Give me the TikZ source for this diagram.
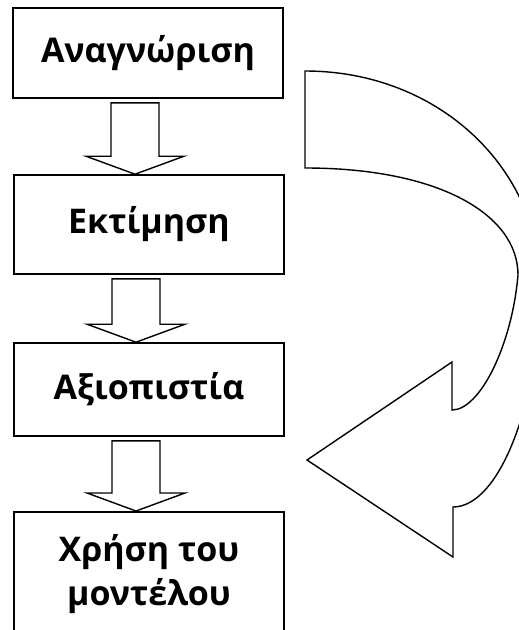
\documentclass[tikz,border=0pt]{standalone}
\usepackage{fontspec}
\setmainfont{Open Sans}
\usetikzlibrary{calc}
\tikzset{
  boxnode/.style={draw=black, line width=1.6pt, minimum width=270pt, inner sep=0pt, align=center, font=\fontsize{34}{44}\selectfont\bfseries},
  blk/.style={draw=black, line width=1.4pt, fill=white, line join=miter},
  bigarrow/.style={draw=black, line width=1.4pt, fill=white, line join=miter}
}
\newcommand{\blockarrow}[2]{%
  \draw[blk] let \p1=(#1.south), \p2=(#2.north) in
    (\x1-37pt,\y1-4pt) -- (\x1+11pt,\y1-4pt) -- (\x1+11pt,\y2+18pt) --
    (\x1+36pt,\y2+18pt) -- (\x1-13pt,\y2) -- (\x1-62pt,\y2+18pt) --
    (\x1-37pt,\y2+18pt) -- cycle;}
\begin{document}
\begin{tikzpicture}[x=1pt,y=-1pt]
\useasboundingbox (0,0) rectangle (519,630);
\clip (0,0) rectangle (519,630);
\fill[white] (0,0) rectangle (519,630);
\node[boxnode, minimum height=90pt] (b1) at (148,53) {\raisebox{5pt}{Αναγνώριση}};
\node[boxnode, minimum height=99pt] (b2) at (149,224.5) {\raisebox{10pt}{Εκτίμηση}};
\node[boxnode, minimum height=93pt] (b3) at (149,389.5) {\raisebox{4pt}{Αξιοπιστία}};
\node[boxnode, minimum height=124pt, anchor=north] (b4) at (149,511) {Χρήση του\\μοντέλου};
\blockarrow{b1}{b2}
\blockarrow{b2}{b3}
\blockarrow{b3}{b4}
\coordinate (tailtop) at (305,71);
\coordinate (tailbot) at (305,168);
\coordinate (tip) at (307,460);
\draw[bigarrow] (tailtop)
  .. controls (440,71) and (540,170) .. (540,285)
  .. controls (540,400) and (500,507) .. (453,507)
  -- (453,557) -- (tip) -- (452,362) -- (452,410)
  .. controls (480,410) and (512,345) .. (518,275)
  .. controls (518,215) and (440,168) .. (tailbot) -- cycle;
\end{tikzpicture}
\end{document}
